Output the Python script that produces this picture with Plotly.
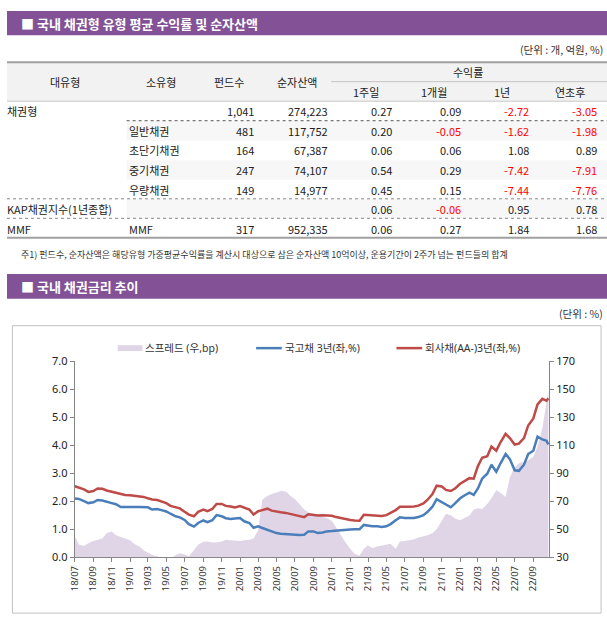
import plotly.graph_objects as go
import pandas as pd

W, H = 607, 624

# ---------------- table data ----------------
major_types = ["채권형", "", "", "", "", "KAP채권지수(1년종합)", "MMF"]
minor_types = ["", "일반채권", "초단기채권", "중기채권", "우량채권", "", "MMF"]
fund_counts = ["1,041", "481", "164", "247", "149", "", "317"]
net_assets = ["274,223", "117,752", "67,387", "74,107", "14,977", "", "952,335"]
ret_1w = [0.27, 0.20, 0.06, 0.54, 0.45, 0.06, 0.06]
ret_1m = [0.09, -0.05, 0.06, 0.29, 0.15, -0.06, 0.27]
ret_1y = [-2.72, -1.62, 1.08, -7.42, -7.44, 0.95, 1.84]
ret_ytd = [-3.05, -1.98, 0.89, -7.91, -7.76, 0.78, 1.68]
shaded_rows = [1, 3, 5]

# ---------------- chart data ----------------
dates = list(pd.date_range("2018-07-01", periods=104, freq="SMS").strftime("%Y-%m-%d")) + ["2022-10-21"]

corp_aa_3y = [
    2.53, 2.47, 2.42, 2.33, 2.36, 2.45, 2.44, 2.38, 2.34, 2.30,
    2.25, 2.22, 2.21, 2.19, 2.17, 2.15, 2.10, 2.06, 2.04, 1.99,
    1.93, 1.83, 1.78, 1.74, 1.62, 1.52, 1.46, 1.62, 1.70, 1.64,
    1.72, 1.90, 1.90, 1.83, 1.81, 1.77, 1.82, 1.76, 1.70, 1.52,
    1.64, 1.68, 1.73, 1.66, 1.62, 1.60, 1.58, 1.55, 1.52, 1.47,
    1.43, 1.53, 1.51, 1.49, 1.50, 1.50, 1.48, 1.43, 1.39, 1.37,
    1.33, 1.31, 1.30, 1.51, 1.50, 1.49, 1.48, 1.47, 1.50, 1.58,
    1.68, 1.80, 1.79, 1.80, 1.81, 1.84, 1.92, 2.05, 2.25, 2.55,
    2.52, 2.40, 2.36, 2.45, 2.62, 2.72, 2.82, 2.80, 3.25, 3.55,
    3.60, 3.95, 3.80, 4.10, 4.40, 4.25, 4.02, 4.05, 4.25, 4.70,
    4.95, 5.45, 5.65, 5.58, 5.67,
]

ktb_3y = [
    2.09, 2.08, 2.00, 1.93, 1.96, 2.04, 2.02, 1.97, 1.93, 1.89,
    1.79, 1.79, 1.80, 1.79, 1.79, 1.78, 1.78, 1.70, 1.72, 1.68,
    1.63, 1.55, 1.46, 1.42, 1.33, 1.18, 1.09, 1.22, 1.31, 1.25,
    1.32, 1.50, 1.46, 1.39, 1.36, 1.38, 1.40, 1.28, 1.22, 1.05,
    1.10, 1.04, 0.98, 0.92, 0.86, 0.84, 0.82, 0.81, 0.80, 0.79,
    0.80, 0.92, 0.92, 0.86, 0.88, 0.92, 0.93, 0.95, 0.97, 0.98,
    0.99, 1.00, 1.00, 1.15, 1.12, 1.10, 1.10, 1.08, 1.10, 1.18,
    1.32, 1.42, 1.40, 1.39, 1.40, 1.43, 1.50, 1.62, 1.80, 2.07,
    1.97, 1.90, 1.78, 1.92, 2.10, 2.20, 2.30, 2.22, 2.45, 2.80,
    2.98, 3.30, 3.05, 3.35, 3.68, 3.50, 3.10, 3.08, 3.30, 3.68,
    3.80, 4.30, 4.20, 4.15, 4.02,
]

spread_bp = [
    45, 39, 38, 40, 41.6, 42.4, 43.4, 47, 48.4, 45.6,
    44.4, 43.6, 42, 39.4, 37.6, 35, 33.4, 31.6, 30.6, 29.5,
    29, 29, 31.4, 32.8, 32, 30.6, 35, 38.8, 41, 41.2,
    40.4, 40.4, 41.2, 42.4, 42, 41.6, 41.6, 42, 42.4, 43.4,
    49, 71, 73.6, 75, 76.4, 77.2, 76.8, 74, 71.6, 68,
    64, 62, 61, 59.6, 58.6, 58, 56, 51, 46, 41,
    36, 32.4, 31.2, 36, 38.4, 36.6, 37.6, 38.4, 39.2, 39.6,
    36, 41.2, 41.6, 42, 42.8, 44, 44.8, 45.6, 47, 50,
    56, 61, 60, 57.6, 56.4, 58, 59.8, 64, 65, 64.4,
    68, 72, 78, 76, 73, 87, 94, 97, 98, 99,
    101.6, 109, 122, 140, 149,
]

series_names = ["스프레드 (우,bp)", "국고채 3년(좌,%)", "회사채(AA-)3년(좌,%)"]

PURPLE = "#835296"
AREA = "#e0d5e7"
BLUE = "#4a7ebb"
RED = "#be4b48"
AXIS = "#868686"
KFONT = "Noto Sans CJK KR"
CFONT = "Noto Sans, Noto Sans CJK KR"


def px(x):
    return x / W


def py(y):
    return 1 - y / H


shapes = []
annotations = []


def rect(x0, y0, x1, y1, fill, line_color=None, lw=0, layer="below"):
    shapes.append(dict(type="rect", xref="paper", yref="paper",
                       x0=px(x0), x1=px(x1), y0=py(y1), y1=py(y0),
                       fillcolor=fill, layer=layer,
                       line=dict(width=lw, color=line_color or fill)))


def hline(x0, x1, y, color, width=1, dash="solid"):
    shapes.append(dict(type="line", xref="paper", yref="paper",
                       x0=px(x0), x1=px(x1), y0=py(y), y1=py(y),
                       line=dict(color=color, width=width, dash=dash)))


def text(x, y, s, size=11, color="#222", anchor="left", bold=False, font=KFONT):
    if bold:
        s = "<b>" + s + "</b>"
    annotations.append(dict(x=px(x), y=py(y), xref="paper", yref="paper",
                            text=s, showarrow=False, xanchor=anchor,
                            yanchor="middle", borderpad=0,
                            font=dict(family=font, size=size, color=color)))


# ---------------- section 1: table ----------------
rect(0, 3, 607, 28, PURPLE)
text(13, 15.5, "■ 국내 채권형 유형 평균 수익률 및 순자산액", size=13, color="white", bold=True)
text(604, 43, "(단위 : 개, 억원, %)", size=10.5, color="#333", anchor="right")

rect(0, 55.5, 607, 95.5, "#f2f2f2")
for i in shaded_rows:
    rect(121, 96 + 20 * i, 607, 116 + 20 * i, "#f7f7f7")

hline(0, 607, 55.5, "#a0a0a0", 2)
hline(328, 607, 75.5, "#c4c4c4", 1)
hline(0, 607, 95.5, "#c8c8c8", 1)
hline(121, 607, 115.5, "#555", 1, "dot")
hline(0, 607, 195.5, "#888", 1, "dot")
hline(0, 607, 215.5, "#888", 1, "dot")
hline(0, 607, 235.5, "#a0a0a0", 2)

for hx, hy, s in [(58.5, 75.5, "대유형"), (155.5, 75.5, "소유형"), (225, 75.5, "펀드수"),
                  (293, 75.5, "순자산액"), (466, 65.5, "수익률"), (363, 86, "1주일"),
                  (432, 86, "1개월"), (501, 86, "1년"), (570, 86, "연초후")]:
    text(hx, hy, s, size=11, color="#222", anchor="center")


def fmt(v):
    return "{:.2f}".format(v)


for i in range(len(major_types)):
    yc = 106 + 20 * i
    if major_types[i]:
        text(-1, yc, major_types[i])
    if minor_types[i]:
        text(122, yc, minor_types[i])
    if fund_counts[i]:
        text(251, yc, fund_counts[i], anchor="right")
    if net_assets[i]:
        text(326, yc, net_assets[i], anchor="right")
    for col, xr in [(ret_1w, 391), (ret_1m, 460), (ret_1y, 529), (ret_ytd, 598)]:
        v = col[i]
        text(xr, yc, fmt(v), anchor="right", color="#ff0000" if v < 0 else "#222")

text(13, 253, "주1) 펀드수, 순자산액은 해당유형 가중평균수익률을 계산시 대상으로 삼은 순자산액 10억이상, 운용기간이 2주가 넘는 펀드들의 합계",
     size=9, color="#333")

# ---------------- section 2: chart ----------------
rect(0, 272.5, 607, 298, PURPLE)
text(13, 285, "■ 국내 채권금리 추이", size=13, color="white", bold=True)
text(604, 313, "(단위 : %)", size=10.5, color="#333", anchor="right")

rect(5.5, 325.5, 601, 620, "rgba(0,0,0,0)", "#c0c0c0", 1)

# legend
rect(112, 345.5, 137, 351.5, AREA)
text(139, 348.5, series_names[0], size=10.5, color="#333", font=CFONT)
hline(252, 278, 348.5, BLUE, 2.5)
text(280, 348.5, series_names[1], size=10.5, color="#333", font=CFONT)
hline(394, 420, 348.5, RED, 2.5)
text(422, 348.5, series_names[2], size=10.5, color="#333", font=CFONT)

fig = go.Figure()
fig.add_trace(go.Scatter(x=dates, y=spread_bp, name=series_names[0], mode="lines",
                         line=dict(width=0, color=AREA), fill="tozeroy",
                         fillcolor=AREA, yaxis="y"))
fig.add_trace(go.Scatter(x=dates, y=ktb_3y, name=series_names[1], mode="lines",
                         line=dict(width=2.5, color=BLUE), yaxis="y2"))
fig.add_trace(go.Scatter(x=dates, y=corp_aa_3y, name=series_names[2], mode="lines",
                         line=dict(width=2.5, color=RED), yaxis="y2"))

x_dom = [px(68.5), px(548.3)]
y_dom = [py(562.7), py(361.7)]

fig.update_layout(
    width=W, height=H,
    margin=dict(l=0, r=0, t=0, b=0),
    paper_bgcolor="white", plot_bgcolor="rgba(0,0,0,0)",
    showlegend=False,
    shapes=shapes, annotations=annotations,
    xaxis=dict(domain=x_dom, type="date", range=["2018-07-01", "2022-10-23"],
               tick0="2018-07-01", dtick="M2", tickformat="%y/%m", tickangle=-90,
               ticks="outside", ticklen=4, tickcolor=AXIS, showline=True,
               linecolor=AXIS, linewidth=1, showgrid=False, zeroline=False,
               tickfont=dict(family=CFONT, size=9.5, color="#333"), anchor="y"),
    yaxis=dict(domain=y_dom, range=[30, 170], dtick=20, tick0=30, side="right",
               ticks="outside", ticklen=4, tickcolor=AXIS, showline=True,
               linecolor=AXIS, linewidth=1, showgrid=False, zeroline=False,
               tickfont=dict(family=CFONT, size=11, color="#222"), anchor="x"),
    yaxis2=dict(range=[0, 7], dtick=1, tick0=0, tickformat=".1f", side="left",
                overlaying="y", ticks="outside", ticklen=4, tickcolor=AXIS,
                showline=True, linecolor=AXIS, linewidth=1, showgrid=False,
                zeroline=False, tickfont=dict(family=CFONT, size=11, color="#222"),
                anchor="x"),
)

fig.write_html(
    "out.html",
    config={"displayModeBar": False, "staticPlot": True},
    post_script="document.body.style.margin='0';document.body.style.padding='0';"
                "document.documentElement.style.overflow='hidden';document.body.style.overflow='hidden';",
)
